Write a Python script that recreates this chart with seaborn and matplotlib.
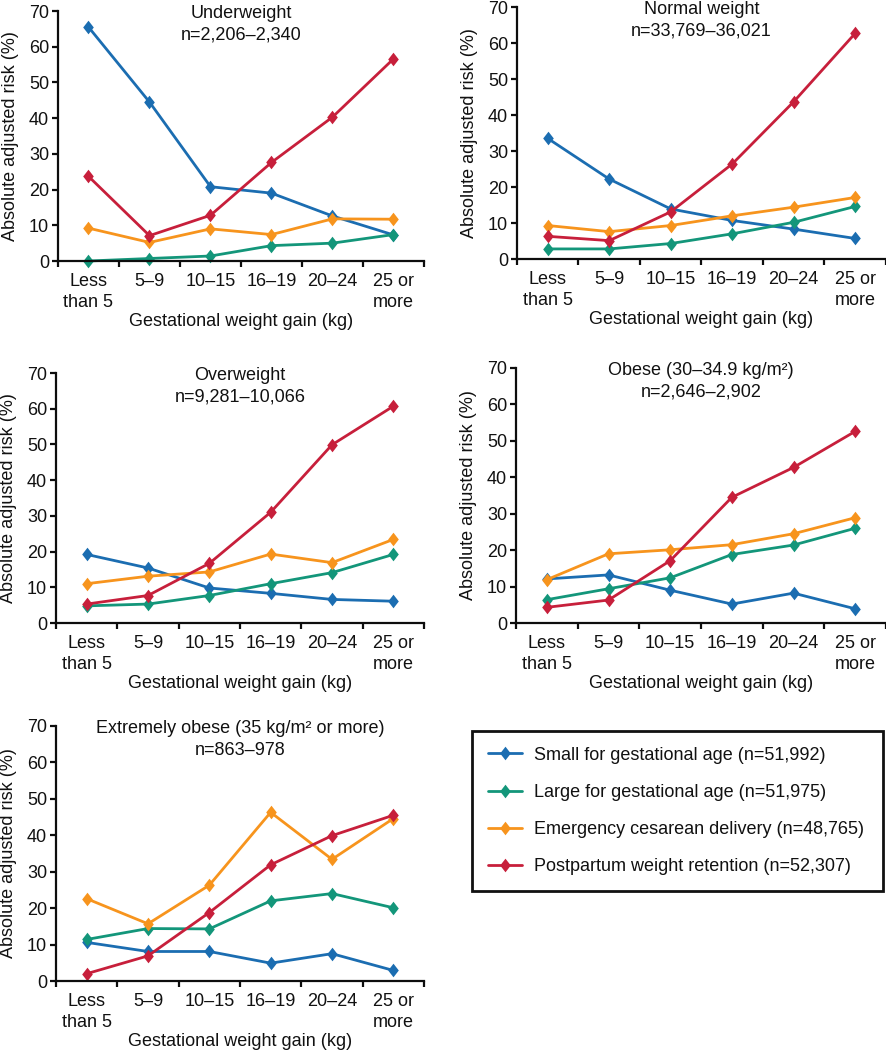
import numpy as np
import pandas as pd
import matplotlib
matplotlib.use("Agg")
import matplotlib.pyplot as plt
from matplotlib.path import Path
from matplotlib.lines import Line2D
import seaborn as sns

# ---------------- data ----------------
categories = ["Less\nthan 5", "5–9", "10–15", "16–19", "20–24", "25 or\nmore"]
outcomes = [
    "Small for gestational age (n=51,992)",
    "Large for gestational age (n=51,975)",
    "Emergency cesarean delivery (n=48,765)",
    "Postpartum weight retention (n=52,307)",
]
colors = ["#1B6DB1", "#13967A", "#F7941D", "#C71F3B"]

titles = [
    "Underweight\nn=2,206–2,340",
    "Normal weight\nn=33,769–36,021",
    "Overweight\nn=9,281–10,066",
    "Obese (30–34.9 kg/m²)\nn=2,646–2,902",
    "Extremely obese (35 kg/m² or more)\nn=863–978",
]

underweight_small = [65.5, 44.5, 20.8, 19.0, 12.6, 7.3]
underweight_large = [0.0, 0.7, 1.4, 4.3, 5.0, 7.4]
underweight_cesarean = [9.2, 5.2, 9.0, 7.4, 11.8, 11.7]
underweight_retention = [23.7, 7.1, 12.8, 27.6, 40.3, 56.6]

normal_small = [33.5, 22.2, 13.9, 10.7, 8.3, 5.7]
normal_large = [2.8, 2.8, 4.3, 7.0, 10.2, 14.6]
normal_cesarean = [9.3, 7.6, 9.3, 12.0, 14.4, 17.1]
normal_retention = [6.3, 5.1, 13.1, 26.4, 43.7, 62.7]

overweight_small = [19.2, 15.4, 9.8, 8.3, 6.6, 6.1]
overweight_large = [4.8, 5.3, 7.7, 11.0, 14.1, 19.2]
overweight_cesarean = [11.0, 13.1, 14.3, 19.3, 16.9, 23.4]
overweight_retention = [5.3, 7.7, 16.7, 31.0, 49.9, 60.7]

obese_small = [12.1, 13.2, 9.0, 5.2, 8.2, 3.9]
obese_large = [6.4, 9.4, 12.4, 18.8, 21.4, 26.0]
obese_cesarean = [11.9, 19.0, 20.1, 21.5, 24.5, 28.9]
obese_retention = [4.3, 6.3, 17.1, 34.5, 42.7, 52.6]

extreme_small = [10.6, 8.1, 8.1, 4.9, 7.5, 2.9]
extreme_large = [11.4, 14.4, 14.3, 22.0, 24.0, 20.1]
extreme_cesarean = [22.6, 15.7, 26.3, 46.3, 33.4, 44.6]
extreme_retention = [2.0, 6.9, 18.8, 31.9, 39.9, 45.5]

panels = [
    [underweight_small, underweight_large, underweight_cesarean, underweight_retention],
    [normal_small, normal_large, normal_cesarean, normal_retention],
    [overweight_small, overweight_large, overweight_cesarean, overweight_retention],
    [obese_small, obese_large, obese_cesarean, obese_retention],
    [extreme_small, extreme_large, extreme_cesarean, extreme_retention],
]

# ---------------- style ----------------
sns.set_style("ticks")
plt.rcParams["font.family"] = ["Liberation Sans", "DejaVu Sans"]
plt.rcParams["font.size"] = 13
plt.rcParams["axes.linewidth"] = 1.6
plt.rcParams["axes.edgecolor"] = "#0d0d0d"
plt.rcParams["text.color"] = "#111111"
plt.rcParams["axes.labelcolor"] = "#111111"
plt.rcParams["xtick.color"] = "#0d0d0d"
plt.rcParams["ytick.color"] = "#0d0d0d"
plt.rcParams["xtick.labelcolor"] = "#111111"
plt.rcParams["ytick.labelcolor"] = "#111111"

W, H = 887, 1050
fig = plt.figure(figsize=(W / 100, H / 100), dpi=100)

# axes rects in pixels: left, right, top, bottom
rects_px = [
    (58, 424, 11, 261),
    (517, 886, 7, 259),
    (56, 424, 373, 623),
    (516, 886, 368, 623),
    (56, 424, 726, 981),
]

diamond = Path([(0, 1), (0.78, 0), (0, -1), (-0.78, 0), (0, 1)],
               [Path.MOVETO, Path.LINETO, Path.LINETO, Path.LINETO, Path.CLOSEPOLY])

positions = np.arange(len(categories))
FS = 13

for (l, r, t, b), title, series in zip(rects_px, titles, panels):
    ax = fig.add_axes([l / W, 1 - b / H, (r - l) / W, (b - t) / H])
    df = pd.DataFrame({
        "pos": np.tile(positions, len(outcomes)),
        "risk": np.concatenate([np.asarray(s, dtype=float) for s in series]),
        "outcome": np.repeat(outcomes, len(categories)),
    })
    sns.lineplot(data=df, x="pos", y="risk", hue="outcome", hue_order=outcomes,
                 palette=colors, marker=diamond, markersize=9.8, markeredgewidth=0,
                 linewidth=2.0, legend=False, sort=False, errorbar=None,
                 ax=ax, clip_on=False)
    ax.set_xlim(-0.5, 5.5)
    ax.set_ylim(0, 70)
    ax.set_yticks(np.arange(0, 71, 10))
    ax.set_xticks(positions)
    ax.set_xticklabels(categories, linespacing=1.3)
    ax.set_xticks(np.arange(len(categories) + 1) - 0.5, minor=True)
    ax.tick_params(axis="x", which="major", length=0, pad=9, labelsize=FS)
    ax.tick_params(axis="x", which="minor", length=4.5, width=1.6, direction="out")
    ax.tick_params(axis="y", length=4.5, width=1.6, pad=2, labelsize=FS)
    sns.despine(ax=ax)
    ax.set_xlabel("Gestational weight gain (kg)", fontsize=FS, labelpad=1.5)
    ax.set_ylabel("Absolute adjusted risk (%)", fontsize=FS, labelpad=7)
    line1, line2 = title.split("\n")
    ax.annotate(line1, xy=(0.5, 1), xycoords="axes fraction", xytext=(0, -1.5),
                textcoords="offset points", ha="center", va="center", fontsize=FS)
    ax.annotate(line2, xy=(0.5, 1), xycoords="axes fraction", xytext=(0, -17.5),
                textcoords="offset points", ha="center", va="center", fontsize=FS)

handles = [Line2D([], [], color=c, linewidth=2.0, marker=diamond, markersize=9.8,
                  markeredgewidth=0) for c in colors]
lx0, lx1, ly0, ly1 = 472, 883, 731, 889
leg = fig.legend(handles, outcomes, loc="upper left",
                 bbox_to_anchor=(lx0 / W, 1 - ly1 / H, (lx1 - lx0) / W, (ly1 - ly0) / H),
                 mode="expand", borderaxespad=0, fancybox=False, framealpha=1,
                 edgecolor="#111111", handlelength=1.9, handletextpad=0.65,
                 labelspacing=1.12, borderpad=0.87, numpoints=1, fontsize=FS)
leg.get_frame().set_linewidth(2.0)

fig.savefig("out.png", dpi=100)
